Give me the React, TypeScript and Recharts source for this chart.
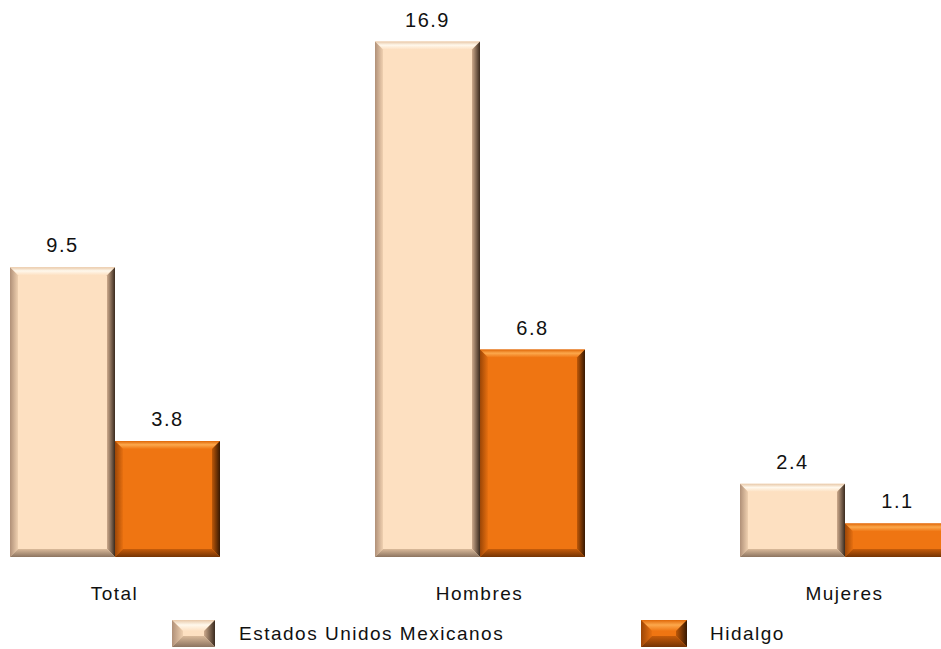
import React from 'react';
import { BarChart, Bar, XAxis, YAxis, LabelList, Legend } from 'recharts';

const categories = ['Total', 'Hombres', 'Mujeres'];
const eumValues = [9.5, 16.9, 2.4];
const hidalgoValues = [3.8, 6.8, 1.1];
const seriesNames = ['Estados Unidos Mexicanos', 'Hidalgo'];

const data = categories.map((c, i) => ({
  category: c,
  eum: eumValues[i],
  hgo: hidalgoValues[i],
}));

const FONT = '"Liberation Sans", Arial, sans-serif';

interface Palette {
  id: string;
  base: string;
  top: [string, string];
  left: [string, string];
  right: [string, string];
  bottom: [string, string];
}

const LIGHT: Palette = {
  id: 'eum',
  base: '#FDE0C1',
  top: ['#E8C8A8', '#FFF8EC'],
  left: ['#B09078', '#EFD0B0'],
  right: ['#3A2A1E', '#CDAA8C'],
  bottom: ['#8C7460', '#DABA9A'],
};

const ORANGE: Palette = {
  id: 'hgo',
  base: '#EF7512',
  top: ['#E06808', '#FCA84C'],
  left: ['#9C4606', '#E87010'],
  right: ['#361802', '#BE5808'],
  bottom: ['#743404', '#C65C0A'],
};

const Gradients = () => (
  <svg width={0} height={0} style={{ position: 'absolute' }}>
    <defs>
      {[LIGHT, ORANGE].map((p) => (
        <React.Fragment key={p.id}>
          <linearGradient id={`${p.id}-top`} x1="0" y1="0" x2="0" y2="1">
            <stop offset="0%" stopColor={p.top[0]} />
            <stop offset="45%" stopColor={p.top[1]} />
            <stop offset="100%" stopColor={p.base} />
          </linearGradient>
          <linearGradient id={`${p.id}-left`} x1="0" y1="0" x2="1" y2="0">
            <stop offset="0%" stopColor={p.left[0]} />
            <stop offset="100%" stopColor={p.left[1]} />
          </linearGradient>
          <linearGradient id={`${p.id}-right`} x1="1" y1="0" x2="0" y2="0">
            <stop offset="0%" stopColor={p.right[0]} />
            <stop offset="100%" stopColor={p.right[1]} />
          </linearGradient>
          <linearGradient id={`${p.id}-bottom`} x1="0" y1="1" x2="0" y2="0">
            <stop offset="0%" stopColor={p.bottom[0]} />
            <stop offset="100%" stopColor={p.bottom[1]} />
          </linearGradient>
        </React.Fragment>
      ))}
    </defs>
  </svg>
);

const bevelShape = (x: number, y: number, w: number, h: number, p: Palette, b: number) => {
  const pts = (arr: number[][]) => arr.map((q) => q.join(',')).join(' ');
  return (
    <g>
      <rect x={x} y={y} width={w} height={h} fill={p.base} />
      <polygon points={pts([[x, y], [x + w, y], [x + w - b, y + b], [x + b, y + b]])} fill={`url(#${p.id}-top)`} />
      <polygon points={pts([[x, y], [x + b, y + b], [x + b, y + h - b], [x, y + h]])} fill={`url(#${p.id}-left)`} />
      <polygon points={pts([[x + w, y], [x + w, y + h], [x + w - b, y + h - b], [x + w - b, y + b]])} fill={`url(#${p.id}-right)`} />
      <polygon points={pts([[x, y + h], [x + w, y + h], [x + w - b, y + h - b], [x + b, y + h - b]])} fill={`url(#${p.id}-bottom)`} />
    </g>
  );
};

const makeBar = (p: Palette) => (props: any) => {
  const { x, y, width, height } = props;
  if (!height || height <= 0) return null;
  const b = Math.min(8, height / 3, width / 3);
  return bevelShape(x, y, width, height, p, b);
};

const LegendContent = () => {
  const items = [
    { name: seriesNames[0], p: LIGHT, icon: 172, text: 239, w: 43 },
    { name: seriesNames[1], p: ORANGE, icon: 641, text: 710, w: 46 },
  ];
  return (
    <div style={{ position: 'relative', width: 941, height: 40 }}>
      {items.map((it) => (
        <React.Fragment key={it.name}>
          <svg width={it.w} height={27} style={{ position: 'absolute', left: it.icon, top: 9 }}>
            {bevelShape(0, 0, it.w, 27, it.p, 11)}
          </svg>
          <span
            style={{
              position: 'absolute',
              left: it.text,
              top: 12,
              fontFamily: FONT,
              fontSize: 19,
              letterSpacing: 1.5,
              color: '#111',
              whiteSpace: 'nowrap',
            }}
          >
            {it.name}
          </span>
        </React.Fragment>
      ))}
    </div>
  );
};

const labelStyle = { fontFamily: FONT, fontSize: 19, letterSpacing: 1.5, fill: '#111' };
const valueStyle = { fontFamily: FONT, fontSize: 20, letterSpacing: 1.5, fill: '#111' };

export default function App() {
  return (
    <div style={{ position: 'absolute', left: 0, top: 0, width: 941, height: 649, overflow: 'hidden', background: '#fff' }}>
      <Gradients />
      <div style={{ position: 'absolute', left: -68, top: 0 }}>
        <BarChart
          width={1095}
          height={649}
          data={data}
          margin={{ top: 8, right: 0, left: 0, bottom: 0 }}
          barCategoryGap={78}
          barGap={0}
        >
          <XAxis
            dataKey="category"
            height={92}
            axisLine={false}
            tickLine={false}
            tickMargin={24}
            tick={labelStyle}
          />
          <YAxis hide domain={[0, 18]} />
          <Legend
            verticalAlign="middle"
            layout="horizontal"
            wrapperStyle={{ top: 611, left: 68, width: 941, height: 40 }}
            content={() => <LegendContent />}
          />
          <Bar dataKey="eum" name={seriesNames[0]} shape={makeBar(LIGHT)} isAnimationActive={false}>
            <LabelList dataKey="eum" position="top" offset={15} formatter={(v: any) => Number(v).toFixed(1)} style={valueStyle} />
          </Bar>
          <Bar dataKey="hgo" name={seriesNames[1]} shape={makeBar(ORANGE)} isAnimationActive={false}>
            <LabelList dataKey="hgo" position="top" offset={15} formatter={(v: any) => Number(v).toFixed(1)} style={valueStyle} />
          </Bar>
        </BarChart>
      </div>
    </div>
  );
}
